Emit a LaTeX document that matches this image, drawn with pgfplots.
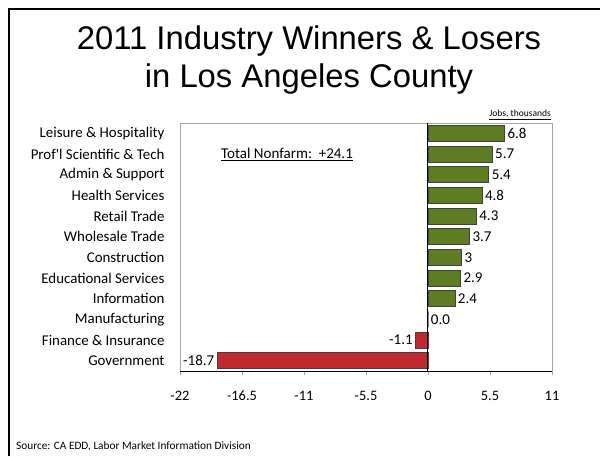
\documentclass[border=0pt]{standalone}
\usepackage{fontspec}
\setmainfont{Carlito}[Ligatures=TeXOff]
\newfontfamily\arialf{Liberation Sans}
\usepackage{pgfplots}
\pgfplotsset{compat=1.18}
\usepackage{pgfplotstable}
\definecolor{bargreen}{RGB}{94,125,35}
\definecolor{barred}{RGB}{194,40,45}
\definecolor{bordergray}{RGB}{165,165,165}
\pgfplotstableread{
y x lab
11 6.8 6.8
10 5.7 5.7
9 5.4 5.4
8 4.8 4.8
7 4.3 4.3
6 3.7 3.7
5 3.0 3
4 2.9 2.9
3 2.4 2.4
2 0.0 0.0
}\pos
\pgfplotstableread{
y x lab
1 -1.1 -1.1
0 -18.7 -18.7
}\neg
\begin{document}
\begin{tikzpicture}[x=1pt,y=1pt]
\useasboundingbox (0,0) rectangle (600,456);
\draw[line width=1.8pt] (9,0) -- (9,447) -- (600,447);
\node[anchor=base,font=\arialf\fontsize{32.8}{38}\selectfont,inner sep=0] at (309,406) {2011 Industry Winners \& Losers};
\node[anchor=base,font=\arialf\fontsize{32.8}{38}\selectfont,inner sep=0] at (309,368) {in Los Angeles County};
\node[anchor=base east,font=\fontsize{9.5}{11}\selectfont,inner sep=0] at (551,339) {\underline{Jobs, thousands}};
\node[anchor=base west,font=\fontsize{11.3}{13}\selectfont,inner sep=0] at (16,7) {Source: CA EDD, Labor Market Information Division};
\begin{axis}[
  at={(180pt,85pt)}, anchor=south west,
  width=372pt, height=248pt, scale only axis,
  xmin=-22, xmax=11, ymin=-0.5, ymax=11.5,
  xtick={-22,-16.5,-11,-5.5,0,5.5,11},
  xticklabels={-22,-16.5,-11,-5.5,0,5.5,11},
  ytick={0,...,11},
  yticklabels={Government,Finance \& Insurance,Manufacturing,Information,Educational Services,Construction,Wholesale Trade,Retail Trade,Health Services,Admin \& Support,Prof'l Scientific \& Tech,Leisure \& Hospitality},
  axis line style={bordergray, line width=0.8pt},
  xtick pos=bottom, tick align=outside, major tick length=4pt,
  x tick style={bordergray, line width=0.6pt},
  y tick style={draw=none},
  xticklabel style={font=\fontsize{14.4}{16}\selectfont, anchor=base, yshift=-25pt},
  yticklabel style={font=\fontsize{14.9}{17}\selectfont, xshift=-8pt},
  xbar, bar width=0.77, bar shift=0pt,
  nodes near coords, point meta=explicit symbolic,
  clip=false,
]
\addplot[fill=bargreen, draw=black!75, line width=0.8pt,
  every node near coord/.append style={anchor=west, font=\fontsize{15}{17}\selectfont, inner sep=2.5pt}]
  table[x=x,y=y,meta=lab] {\pos};
\addplot[fill=barred, draw=black!75, line width=0.8pt,
  every node near coord/.append style={anchor=east, font=\fontsize{15}{17}\selectfont, inner sep=2.5pt}]
  table[x=x,y=y,meta=lab] {\neg};
\draw[black, line width=1pt] (axis cs:-22,-0.5) -- (axis cs:11,-0.5);
\draw[black, line width=1pt] (axis cs:0,-0.5) -- (axis cs:0,11.5);
\end{axis}
\node[anchor=base west,font=\fontsize{15}{17}\selectfont,inner sep=0] at (221,297) {\underline{Total Nonfarm:~~+24.1}};
\end{tikzpicture}
\end{document}
